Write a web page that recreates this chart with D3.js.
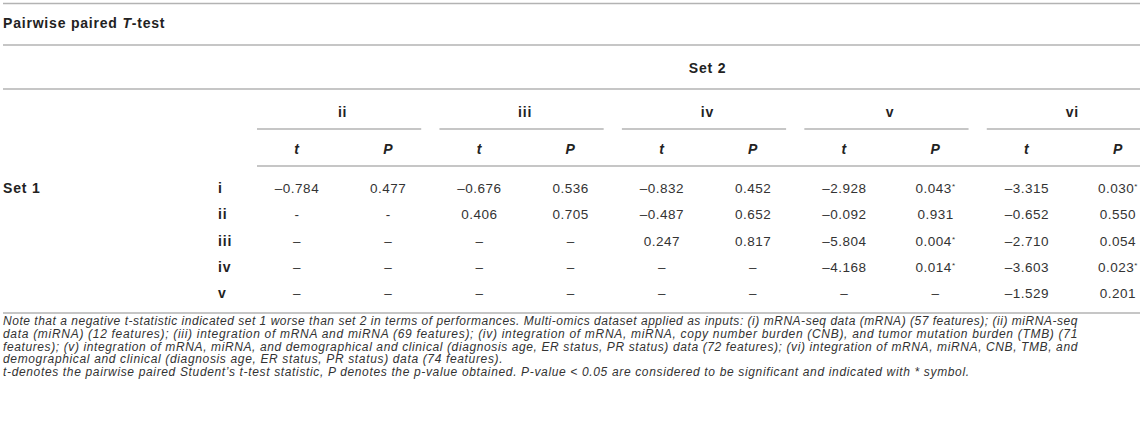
<!DOCTYPE html>
<html lang="en">
<head>
  <meta charset="UTF-8" />
  <title>Pairwise paired T-test</title>
  <script src="https://d3js.org/d3.v7.min.js"></script>
  <style>
    body { margin: 0; background: #fff; }
    text { font-family: "Liberation Sans", Arial, Helvetica, sans-serif; }
  </style>
</head>
<body>
  <svg id="tbl" width="1145" height="422"></svg>

  <script>
    // table contents
    const set2Groups = ["ii", "iii", "iv", "v", "vi"];
    const statCols = ["t", "P"];
    const set1Rows = ["i", "ii", "iii", "iv", "v"];

    // null = not compared (–), NaN = not applicable (-)
    const tStats = [
      [-0.784, -0.676, -0.832, -2.928, -3.315],
      [NaN, 0.406, -0.487, -0.092, -0.652],
      [null, null, 0.247, -5.804, -2.710],
      [null, null, null, -4.168, -3.603],
      [null, null, null, null, -1.529]
    ];
    const pValues = [
      [0.477, 0.536, 0.452, 0.043, 0.030],
      [NaN, 0.705, 0.652, 0.931, 0.550],
      [null, null, 0.817, 0.004, 0.054],
      [null, null, null, 0.014, 0.023],
      [null, null, null, null, 0.201]
    ];
    const alpha = 0.05;

    const noteLines = [
      "Note that a negative t-statistic indicated set 1 worse than set 2 in terms of performances. Multi-omics dataset applied as inputs: (i) mRNA-seq data (mRNA) (57 features); (ii) miRNA-seq",
      "data (miRNA) (12 features); (iii) integration of mRNA and miRNA (69 features); (iv) integration of mRNA, miRNA, copy number burden (CNB), and tumor mutation burden (TMB) (71",
      "features); (v) integration of mRNA, miRNA, and demographical and clinical (diagnosis age, ER status, PR status) data (72 features); (vi) integration of mRNA, miRNA, CNB, TMB, and",
      "demographical and clinical (diagnosis age, ER status, PR status) data (74 features).",
      "t-denotes the pairwise paired Student\u2019s t-test statistic, P denotes the p-value obtained. P-value < 0.05 are considered to be significant and indicated with * symbol."
    ];

    const svg = d3.select("#tbl");
    const lineColor = "#b3b3b3";
    const textColor = "#333";
    const headColor = "#222";
    const left = 3, right = 1140;

    // 10 value columns: t and P under each Set 2 group
    const colKeys = set2Groups.flatMap(g => statCols.map(s => g + "|" + s));
    const x = d3.scalePoint().domain(colKeys).range([297, 1118]);
    const y = d3.scalePoint().domain(set1Rows).range([193, 298]);

    const fmt = d3.formatLocale({ decimal: ".", thousands: ",", grouping: [3], currency: ["", ""], minus: "\u2013" }).format(".3f");
    const cellText = v => v === null ? "\u2013" : (Number.isNaN(v) ? "-" : fmt(v));

    function hline(x1, x2, yy) {
      svg.append("line")
        .attr("x1", x1).attr("x2", x2)
        .attr("y1", yy).attr("y2", yy)
        .attr("stroke", lineColor)
        .attr("stroke-width", 1.4);
    }

    function bold(sel) {
      return sel.attr("font-size", 14).attr("font-weight", "bold")
        .attr("letter-spacing", 0.8).attr("fill", headColor);
    }

    // rules
    hline(left, right, 3.5);
    hline(left, right, 45);
    hline(left, right, 89);
    hline(x(colKeys[0]) - 40, right, 166);
    hline(left, right, 313);

    // title
    const title = bold(svg.append("text").attr("x", left).attr("y", 28));
    title.append("tspan").text("Pairwise paired ");
    title.append("tspan").attr("font-style", "italic").text("T");
    title.append("tspan").text("-test");

    // Set 2 header
    bold(svg.append("text")
      .attr("x", (x(colKeys[0]) + x(colKeys[colKeys.length - 1])) / 2)
      .attr("y", 73)
      .attr("text-anchor", "middle"))
      .text("Set 2");

    // group headers + underline
    const groups = svg.selectAll("g.grp").data(set2Groups).join("g").attr("class", "grp");
    bold(groups.append("text")
      .attr("x", g => (x(g + "|t") + x(g + "|P")) / 2)
      .attr("y", 117)
      .attr("text-anchor", "middle"))
      .text(g => g);
    groups.append("line")
      .attr("x1", g => x(g + "|t") - 40)
      .attr("x2", g => Math.min(right, x(g + "|P") + 33))
      .attr("y1", 129).attr("y2", 129)
      .attr("stroke", lineColor).attr("stroke-width", 1.4);

    // t / P sub headers
    bold(svg.selectAll("text.sub").data(colKeys).join("text")
      .attr("class", "sub")
      .attr("x", k => x(k))
      .attr("y", 154)
      .attr("text-anchor", "middle"))
      .attr("font-style", "italic")
      .text(k => k.split("|")[1]);

    // Set 1 label + row labels
    bold(svg.append("text").attr("x", left).attr("y", y(set1Rows[0])))
      .text("Set 1");
    bold(svg.selectAll("text.rowlab").data(set1Rows).join("text")
      .attr("class", "rowlab")
      .attr("x", 218).attr("y", r => y(r)))
      .text(r => r);

    // cells
    const cells = [];
    set1Rows.forEach((r, i) => {
      set2Groups.forEach((g, j) => {
        cells.push({ row: r, key: g + "|t", v: tStats[i][j], star: false });
        const p = pValues[i][j];
        cells.push({ row: r, key: g + "|P", v: p, star: p !== null && !Number.isNaN(p) && p < alpha });
      });
    });

    const cellSel = svg.selectAll("text.cell").data(cells).join("text")
      .attr("class", "cell")
      .attr("x", d => x(d.key))
      .attr("y", d => y(d.row))
      .attr("text-anchor", "middle")
      .attr("font-size", 13.5).attr("letter-spacing", 0.5).attr("fill", textColor);
    cellSel.append("tspan").text(d => cellText(d.v));
    cellSel.filter(d => d.star).append("tspan")
      .attr("font-size", 8).attr("dy", -4).text("*");

    // footnote
    svg.selectAll("text.note").data(noteLines).join("text")
      .attr("class", "note")
      .attr("x", left)
      .attr("y", (d, i) => 325 + i * 12.8)
      .attr("font-size", 12).attr("letter-spacing", 0.65)
      .attr("font-style", "italic").attr("fill", textColor)
      .text(d => d)
      .each(function (d, i) {
        if (i < 3) d3.select(this).attr("textLength", 1075).attr("lengthAdjust", "spacing");
      });
  </script>
</body>
</html>
